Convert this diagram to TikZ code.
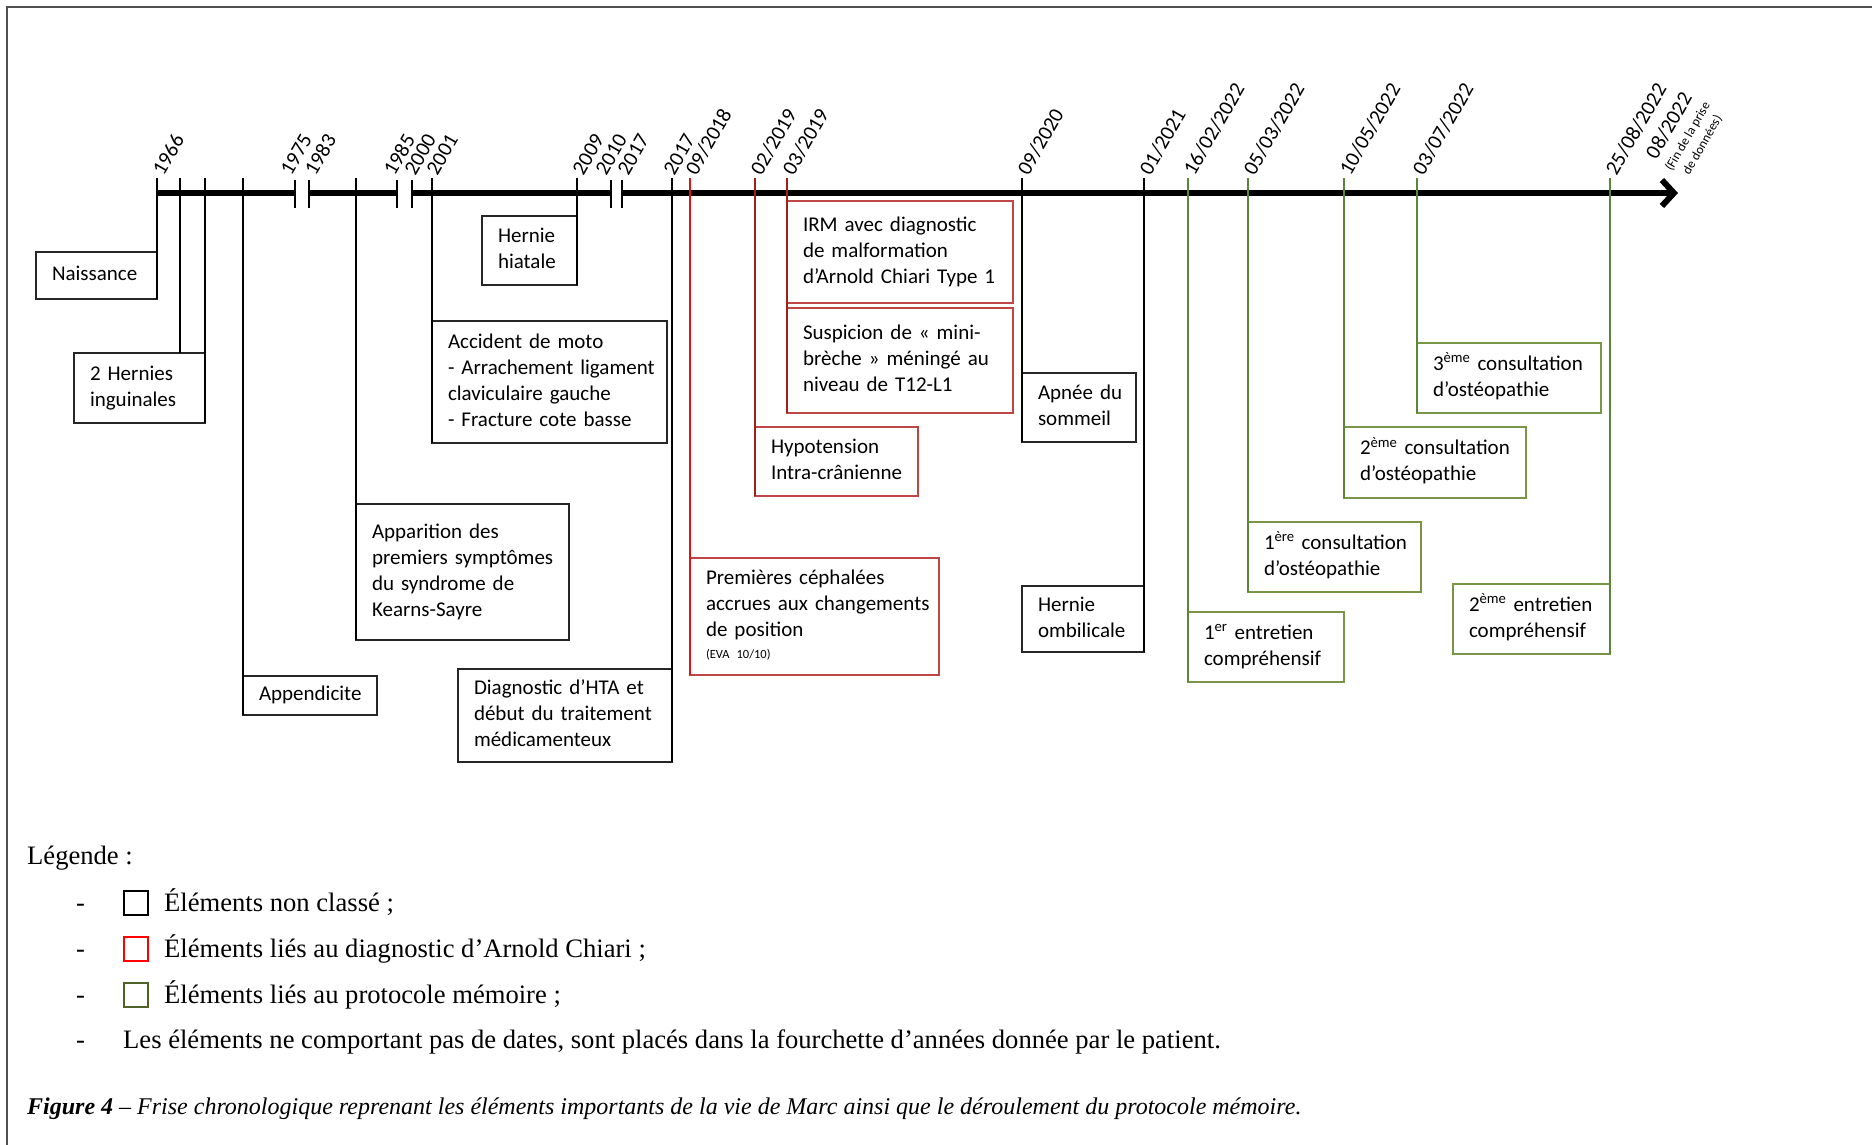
\documentclass[tikz,border=0pt]{standalone}
\usepackage{fontspec}
\setmainfont{Liberation Serif}
\newfontfamily\calib{Carlito}
\usetikzlibrary{arrows.meta}
\definecolor{redln}{RGB}{220,20,20}
\definecolor{darkredln}{RGB}{160,30,30}
\definecolor{redbox}{RGB}{192,70,70}
\definecolor{greenln}{RGB}{90,135,55}
\definecolor{greenbox}{RGB}{120,150,70}
\definecolor{greensq}{RGB}{79,98,40}
\definecolor{framegray}{RGB}{80,80,80}
\newcommand\evtfont{\calib\fontsize{21}{26}\selectfont}
\newcommand\dtfont{\calib\fontsize{21}{25}\selectfont}
\newcommand\lgfont{\fontsize{26.6}{30}\selectfont}
\newcommand\cpfont{\fontsize{24}{28}\selectfont}
% box text: left aligned, never wrapped
\newcommand\evl[1]{\begin{tabular}{@{}l@{}}#1\end{tabular}}

\begin{document}
\begin{tikzpicture}[x=1pt, y=-1pt,
  evt/.style    = {draw, outer sep=0pt, inner xsep=16pt, inner ysep=2pt, line width=1.3pt,
                   font=\evtfont},
  blk/.style    = {evt, draw=black!85},
  chiari/.style = {evt, draw=redbox},
  memo/.style   = {evt, draw=greenbox},
  ln/.style     = {line width=1.8pt},
  dt/.style     = {rotate=60, anchor=west, inner sep=1pt, font=\dtfont},
  brk/.style    = {line width=2.4pt},
  axis/.style   = {line width=6pt},
  sq/.style     = {draw, line width=2.4pt, minimum size=24pt, inner sep=0pt, outer sep=0pt},
  lg/.style     = {anchor=base west, inner sep=0pt, font=\lgfont}
]
\useasboundingbox (0,0) rectangle (1872,1145);
\draw[framegray, line width=2pt] (7,1145) -- (7,7) -- (1872,7);

% time axis with breaks
\draw[axis] (157,193) -- (295,193);
\draw[axis] (309,193) -- (397,193);
\draw[axis] (412,193) -- (611,193);
\draw[axis, -{Straight Barb[length=12pt,width=26pt]}] (622,193) -- (1678,193);
\draw[brk] (295,180) -- (295,208); \draw[brk] (309,180) -- (309,208);
\draw[brk] (397,180) -- (397,208); \draw[brk] (412,180) -- (412,208);
\draw[brk] (611,180) -- (611,208); \draw[brk] (622,180) -- (622,208);

% dates
\node[dt] (d1966) at (157,174) {1966};
\node[dt] (d1975) at (285,174) {1975};
\node[dt] (d1983) at (309,174) {1983};
\node[dt] (d1985) at (388,174) {1985};
\node[dt] (d2000) at (409,174) {2000};
\node[dt] (d2001) at (431,174) {2001};
\node[dt] (d2009) at (577,174) {2009};
\node[dt] (d2010) at (600,174) {2010};
\node[dt] (d2017a) at (622,174) {2017};
\node[dt] (d2017b) at (668,174) {2017};
\node[dt] (d0918) at (690,174) {09/2018};
\node[dt] (d0219) at (755,174) {02/2019};
\node[dt] (d0319) at (787,174) {03/2019};
\node[dt] (d0920) at (1022,174) {09/2020};
\node[dt] (d0121) at (1144,174) {01/2021};
\node[dt] (d1602) at (1188,174) {16/02/2022};
\node[dt] (d0503) at (1248,174) {05/03/2022};
\node[dt] (d1005) at (1344,174) {10/05/2022};
\node[dt] (d0307) at (1417,174) {03/07/2022};
\node[dt] (d2508) at (1610,174) {25/08/2022};
\node[dt, anchor=north, align=center, font=\calib\fontsize{13}{17}\selectfont] (dfin) at (1661,121)
  {{\dtfont 08/2022}\\[2pt](Fin de la prise\\de données)};

% tick tops
\coordinate (t1966) at (157,178);
\coordinate (tA) at (180,178);
\coordinate (tB) at (205,178);
\coordinate (tC) at (243,178);
\coordinate (tD) at (356,178);
\coordinate (t2001) at (432,178);
\coordinate (t2009) at (577,178);
\coordinate (t2017) at (672,178);
\coordinate (t0918) at (690,178);
\coordinate (t0219) at (755,178);
\coordinate (t0319) at (787,178);
\coordinate (t0920) at (1022,178);
\coordinate (t0121) at (1144,178);
\coordinate (t1602) at (1188,178);
\coordinate (t0503) at (1248,178);
\coordinate (t1005) at (1344,178);
\coordinate (t0307) at (1417,178);
\coordinate (t2508) at (1610,178);

% events
\node[blk, anchor=north east, text width=89pt, minimum height=47pt] (nais) at (157,252) {\evl{Naissance}};
\node[blk, anchor=north east, text width=99pt, minimum height=70pt] (hern) at (205,353) {\evl{2 Hernies\\inguinales}};
\node[blk, anchor=north west, text width=102pt, minimum height=39pt] (appe) at (243,676) {\evl{Appendicite}};
\node[blk, anchor=north west, text width=181pt, minimum height=136pt] (appa) at (356,504)
  {\evl{Apparition des\\premiers symptômes\\du syndrome de\\Kearns-Sayre}};
\node[blk, anchor=north west, text width=203pt, minimum height=122pt] (acci) at (432,321)
  {\evl{Accident de moto\\- Arrachement ligament\\claviculaire gauche\\- Fracture cote basse}};
\node[blk, anchor=north east, text width=63pt, minimum height=69pt] (hiat) at (577,216) {\evl{Hernie\\hiatale}};
\node[blk, anchor=north east, text width=182pt, minimum height=93pt] (hta) at (672,669)
  {\evl{Diagnostic d’HTA et\\début du traitement\\médicamenteux}};
\node[chiari, anchor=north west, text width=217pt, minimum height=117pt] (ceph) at (690,558)
  {\evl{Premières céphalées\\accrues aux changements\\de position\\[-4pt]{\fontsize{12.5}{14}\selectfont (EVA 10/10)}}};
\node[chiari, anchor=north west, text width=131pt, minimum height=69pt] (hypo) at (755,427)
  {\evl{Hypotension\\Intra-crânienne}};
\node[chiari, anchor=north west, text width=194pt, minimum height=102pt] (irm) at (787,201)
  {\evl{IRM avec diagnostic\\de malformation\\d’Arnold Chiari Type 1}};
\node[chiari, anchor=north west, text width=194pt, minimum height=105pt] (susp) at (787,308)
  {\evl{Suspicion de « mini-\\brèche » méningé au\\niveau de T12-L1}};
\node[blk, anchor=north west, text width=82pt, minimum height=69pt] (apne) at (1022,373) {\evl{Apnée du\\sommeil}};
\node[blk, anchor=north east, text width=90pt, minimum height=66pt] (ombi) at (1144,586) {\evl{Hernie\\ombilicale}};
\node[memo, anchor=north west, text width=124pt, minimum height=70pt] (ent1) at (1188,612)
  {\evl{1\textsuperscript{er} entretien\\compréhensif}};
\node[memo, anchor=north west, text width=141pt, minimum height=70pt] (con1) at (1248,522)
  {\evl{1\textsuperscript{ère} consultation\\d’ostéopathie}};
\node[memo, anchor=north west, text width=150pt, minimum height=71pt] (con2) at (1344,427)
  {\evl{2\textsuperscript{ème} consultation\\d’ostéopathie}};
\node[memo, anchor=north west, text width=152pt, minimum height=70pt] (con3) at (1417,343)
  {\evl{3\textsuperscript{ème} consultation\\d’ostéopathie}};
\node[memo, anchor=north east, text width=125pt, minimum height=70pt] (ent2) at (1610,584)
  {\evl{2\textsuperscript{ème} entretien\\compréhensif}};

% links from the axis
\draw[ln] (t1966) -- (nais.south east); \draw[ln] (tA) -- (tA |- hern.north);
\draw[ln] (tB) -- (hern.south east);    \draw[ln] (tC) -- (appe.south west);
\draw[ln] (tD) -- (appa.south west);    \draw[ln] (t2001) -- (acci.south west);
\draw[ln] (t2009) -- (hiat.south east); \draw[ln] (t2017) -- (hta.south east);
\draw[ln, redln] (t0918) -- (ceph.south west);
\draw[ln, darkredln] (t0219) -- (hypo.south west);
\draw[ln, darkredln] (t0319) -- (susp.south west);
\draw[ln] (t0920) -- (apne.south west); \draw[ln] (t0121) -- (ombi.south east);
\draw[ln, greenln] (t1602) -- (ent1.south west);
\draw[ln, greenln] (t0503) -- (con1.south west);
\draw[ln, greenln] (t1005) -- (con2.south west);
\draw[ln, greenln] (t0307) -- (con3.south west);
\draw[ln, greenln] (t2508) -- (ent2.south east);

% legend
\node[lg] (leg) at (27,864) {Légende :};
\node[lg] (b1) at (76,911) {-};
\node[sq, draw=black] (s1) at (136,903) {};
\node[lg] (l1) at (164,911) {Éléments non classé ;};
\node[lg] (b2) at (76,957) {-};
\node[sq, draw=red] (s2) at (136,949) {};
\node[lg] (l2) at (164,957) {Éléments liés au diagnostic d’Arnold Chiari ;};
\node[lg] (b3) at (76,1003) {-};
\node[sq, draw=greensq] (s3) at (136,995) {};
\node[lg] (l3) at (164,1003) {Éléments liés au protocole mémoire ;};
\node[lg] (b4) at (76,1048) {-};
\node[lg] (l4) at (123,1048) {Les éléments ne comportant pas de dates, sont placés dans la fourchette d’années donnée par le patient.};
\node[anchor=base west, inner sep=0pt, font=\cpfont] (cap) at (27,1114)
  {\textbf{\textit{Figure 4}} \textit{– Frise chronologique reprenant les éléments importants de la vie de Marc ainsi que le déroulement du protocole mémoire.}};
\end{tikzpicture}
\end{document}
